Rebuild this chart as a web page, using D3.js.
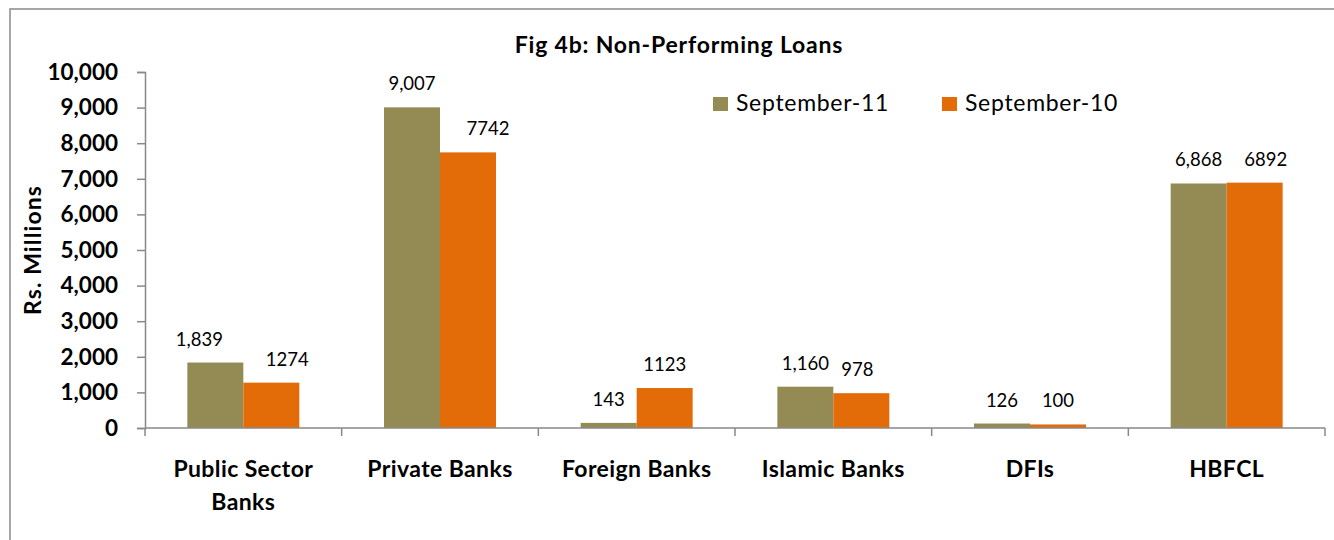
<!DOCTYPE html>
<html>
<head>
<meta charset="utf-8">
<script src="https://cdn.jsdelivr.net/npm/d3@7"></script>
<style>
  html, body { margin: 0; padding: 0; background: #fff; }
  svg { display: block; font-family: Lato, "Open Sans", sans-serif; }
</style>
</head>
<body>
<svg id="chart" width="1334" height="540"></svg>
<script>
// Non-performing loans by institution type (Rs. millions)
const categories = [["Public Sector", "Banks"], ["Private Banks"], ["Foreign Banks"], ["Islamic Banks"], ["DFIs"], ["HBFCL"]];
const seriesNames = ["September-11", "September-10"];
const sep11 = [1839, 9007, 143, 1160, 126, 6868];
const sep10 = [1274, 7742, 1123, 978, 100, 6892];
const seriesColors = ["#948A54", "#E36C09"];
const yTicks = [0, 1000, 2000, 3000, 4000, 5000, 6000, 7000, 8000, 9000, 10000];
// hand-placed horizontal nudges (px) for a few value labels
const labelShift = [[-16, 0, 0, 0, 0, 0], [16, 20, 0, -4, 0, 11]];

const svg = d3.select("#chart");
const axisColor = "#898989";

// outer chart frame
svg.append("rect")
  .attr("x", 10).attr("y", 9)
  .attr("width", 1400).attr("height", 600)
  .attr("fill", "none").attr("stroke", axisColor).attr("stroke-width", 1.5);

const plot = { left: 145, right: 1325, top: 72, bottom: 428 };

const x = d3.scaleBand()
  .domain(d3.range(categories.length))
  .range([plot.left, plot.right])
  .paddingInner(0).paddingOuter(0);

const bandW = x.bandwidth();
const groupPad = 0.2153 * bandW;   // space on each side of a bar pair
const barW = (bandW - 2 * groupPad) / 2;

const y = d3.scaleLinear().domain([0, 10000]).range([plot.bottom, plot.top]);

// title
svg.append("text")
  .attr("x", 679).attr("y", 53)
  .attr("text-anchor", "middle")
  .attr("font-weight", "bold").attr("font-size", 23)
  .attr("letter-spacing", 0.8)
  .attr("fill", "#000")
  .text("Fig 4b: Non-Performing Loans");

// bars
const series = [sep11, sep10];
series.forEach((vals, si) => {
  svg.append("g").selectAll("rect")
    .data(vals)
    .join("rect")
    .attr("x", (d, i) => x(i) + groupPad + si * barW)
    .attr("y", d => y(d))
    .attr("width", barW)
    .attr("height", d => y(0) - y(d))
    .attr("fill", seriesColors[si]);
});

// value labels
const fmt = [d3.format(","), d3.format("d")];
series.forEach((vals, si) => {
  svg.append("g").selectAll("text")
    .data(vals)
    .join("text")
    .attr("x", (d, i) => x(i) + groupPad + si * barW + barW / 2 + labelShift[si][i])
    .attr("y", d => y(d) - 17)
    .attr("text-anchor", "middle")
    .attr("font-size", 18.5)
    .attr("fill", "#000")
    .text(d => fmt[si](d));
});

// y axis
const yAxis = svg.append("g")
  .attr("transform", `translate(${plot.left},0)`)
  .call(d3.axisLeft(y).tickValues(yTicks).tickFormat(d3.format(",")).tickSize(8).tickPadding(19));
yAxis.select(".domain").attr("stroke", axisColor).attr("stroke-width", 1.5);
yAxis.selectAll(".tick line").attr("stroke", axisColor).attr("stroke-width", 1.5);
yAxis.selectAll(".tick text")
  .attr("font-family", "Lato, sans-serif")
  .attr("font-size", 22.5).attr("font-weight", "bold").attr("fill", "#000");

// x axis baseline and category separators
const xg = svg.append("g");
xg.append("line")
  .attr("x1", plot.left).attr("x2", plot.right)
  .attr("y1", y(0)).attr("y2", y(0))
  .attr("stroke", axisColor).attr("stroke-width", 1.5);
const bounds = d3.range(categories.length + 1).map(i => i < categories.length ? x(i) : plot.right);
xg.selectAll("line.sep")
  .data(bounds)
  .join("line")
  .attr("class", "sep")
  .attr("x1", d => d).attr("x2", d => d)
  .attr("y1", y(0)).attr("y2", y(0) + 8)
  .attr("stroke", axisColor).attr("stroke-width", 1.5);

// category labels
const catG = xg.selectAll("text.cat")
  .data(categories)
  .join("text")
  .attr("class", "cat")
  .attr("text-anchor", "middle")
  .attr("font-weight", "bold").attr("font-size", 23)
  .attr("letter-spacing", 0.4)
  .attr("fill", "#000");
catG.each(function(lines, i) {
  const t = d3.select(this);
  lines.forEach((ln, k) => {
    t.append("tspan")
      .attr("x", x(i) + bandW / 2)
      .attr("y", 477 + k * 33)
      .text(ln);
  });
});

// y axis title
svg.append("text")
  .attr("transform", "translate(41,250) rotate(-90)")
  .attr("text-anchor", "middle")
  .attr("font-weight", "bold").attr("font-size", 23)
  .attr("letter-spacing", 1.1)
  .attr("fill", "#000")
  .text("Rs. Millions");

// legend
const legend = svg.append("g");
const legendX = [713, 942];
seriesNames.forEach((name, si) => {
  legend.append("rect")
    .attr("x", legendX[si]).attr("y", 97)
    .attr("width", 15).attr("height", 14)
    .attr("fill", seriesColors[si]);
  legend.append("text")
    .attr("x", legendX[si] + 23).attr("y", 111)
    .attr("font-size", 23)
    .attr("letter-spacing", 0.7)
    .attr("fill", "#000")
    .text(name);
});
</script>
</body>
</html>
